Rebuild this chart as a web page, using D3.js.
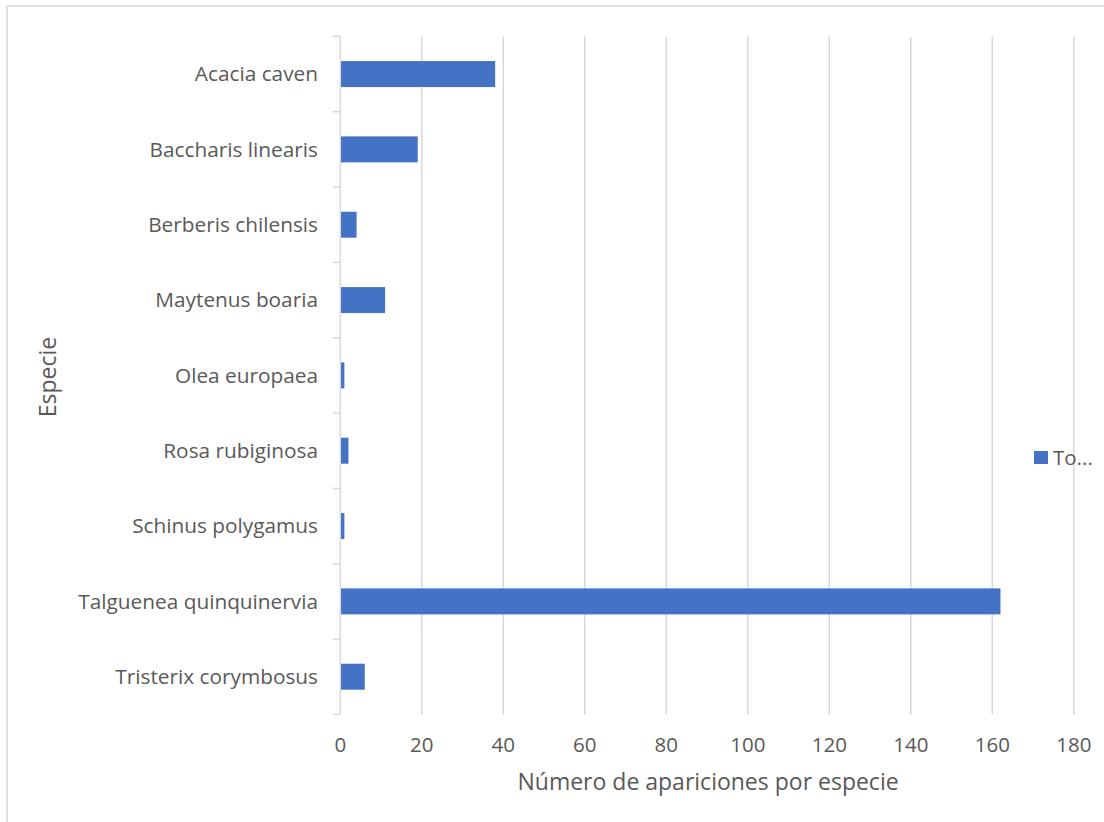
<!DOCTYPE html>
<html>
<head>
<meta charset="utf-8">
<script src="https://cdn.jsdelivr.net/npm/d3@7"></script>
<style>
  html, body { margin: 0; padding: 0; background: #fff; }
  svg { display: block; }
  text { font-family: "Open Sans", Lato, sans-serif; fill: #595959; }
</style>
</head>
<body>
<svg id="chart" width="1104" height="822"></svg>
<script>
// Species observed and number of appearances of each one
const species = [
  "Acacia caven",
  "Baccharis linearis",
  "Berberis chilensis",
  "Maytenus boaria",
  "Olea europaea",
  "Rosa rubiginosa",
  "Schinus polygamus",
  "Talguenea quinquinervia",
  "Tristerix corymbosus"
];
const counts = [38, 19, 4, 11, 1, 2, 1, 162, 6];
const xTicks = [0, 20, 40, 60, 80, 100, 120, 140, 160, 180];
const seriesName = "Total";

const data = species.map((s, i) => ({ name: s, value: counts[i] }));

const svg = d3.select("#chart");
const W = 1104, H = 822;

// Outer chart frame
svg.append("rect")
  .attr("x", 7).attr("y", 6)
  .attr("width", W + 10).attr("height", H + 10)
  .attr("fill", "#fff")
  .attr("stroke", "#d9d9d9").attr("stroke-width", 1.6);

const plot = { left: 340.3, right: 1073.8, top: 36.4, bottom: 714.4 };

const x = d3.scaleLinear().domain([0, 180]).range([plot.left, plot.right]);
const y = d3.scaleBand().domain(species).range([plot.top, plot.bottom]).padding(0);
const barH = y.bandwidth() * 0.345;

// Vertical gridlines
svg.append("g")
  .selectAll("line")
  .data(xTicks.filter(t => t > 0))
  .join("line")
  .attr("x1", d => x(d)).attr("x2", d => x(d))
  .attr("y1", plot.top).attr("y2", plot.bottom)
  .attr("stroke", "#d9d9d9").attr("stroke-width", 1.5);

// Bars
svg.append("g")
  .selectAll("rect")
  .data(data)
  .join("rect")
  .attr("x", x(0))
  .attr("y", d => y(d.name) + (y.bandwidth() - barH) / 2)
  .attr("width", d => x(d.value) - x(0))
  .attr("height", barH)
  .attr("fill", "#4472c4");

// Category axis line and tick marks at category boundaries
svg.append("line")
  .attr("x1", x(0)).attr("x2", x(0))
  .attr("y1", plot.top).attr("y2", plot.bottom)
  .attr("stroke", "#d9d9d9").attr("stroke-width", 1.5);

const boundaries = species.map(s => y(s)).concat([plot.bottom]);
svg.append("g")
  .selectAll("line")
  .data(boundaries)
  .join("line")
  .attr("x1", x(0) - 7.5).attr("x2", x(0))
  .attr("y1", d => d).attr("y2", d => d)
  .attr("stroke", "#d9d9d9").attr("stroke-width", 1.5);

// Category labels
svg.append("g")
  .selectAll("text")
  .data(species)
  .join("text")
  .attr("x", 318)
  .attr("y", d => y(d) + y.bandwidth() / 2)
  .attr("dy", "0.35em")
  .attr("text-anchor", "end")
  .attr("font-size", 20.8)
  .text(d => d);

// Value axis labels
svg.append("g")
  .selectAll("text")
  .data(xTicks)
  .join("text")
  .attr("x", d => x(d))
  .attr("y", 745)
  .attr("dy", "0.35em")
  .attr("text-anchor", "middle")
  .attr("font-size", 20.5)
  .text(d => d);

// Axis titles
svg.append("text")
  .attr("x", (plot.left + plot.right) / 2 + 1)
  .attr("y", 790)
  .attr("text-anchor", "middle")
  .attr("font-size", 23)
  .text("Número de apariciones por especie");

svg.append("text")
  .attr("transform", "translate(56,377) rotate(-90)")
  .attr("text-anchor", "middle")
  .attr("font-size", 23)
  .text("Especie");

// Legend (series name truncated to fit)
const legend = svg.append("g").attr("transform", "translate(1034,451)");
legend.append("rect")
  .attr("width", 14).attr("height", 13)
  .attr("fill", "#4472c4");
legend.append("text")
  .attr("x", 19).attr("y", 6.5)
  .attr("dy", "0.35em")
  .attr("font-size", 20.5)
  .text(seriesName.slice(0, 2) + "...");
</script>
</body>
</html>
